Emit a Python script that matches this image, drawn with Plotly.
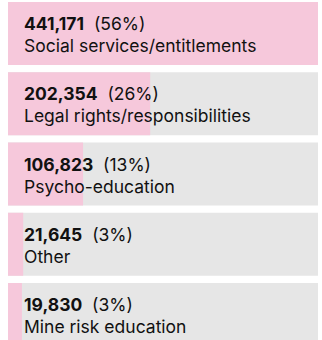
import plotly.graph_objects as go

# Counts of people reached, by type of activity
categories = [
    "Social services/entitlements",
    "Legal rights/responsibilities",
    "Psycho-education",
    "Other",
    "Mine risk education",
]
values = [441171, 202354, 106823, 21645, 19830]

PINK = "#F6C8DB"
GREY = "#E6E6E6"
TEXT = "#111111"
FONT = "Inter"
FSIZE = 17.5

total = sum(values)
vmax = max(values)
pcts = [round(v / total * 100) for v in values]
ypos = list(range(len(categories)))

fig = go.Figure()

# Full-width track behind each bar
fig.add_trace(go.Bar(
    y=ypos, x=[vmax] * len(values), orientation="h",
    marker=dict(color=GREY, line=dict(width=0)),
    width=0.897, hoverinfo="skip", showlegend=False,
))
# Value bar, scaled to the largest category
fig.add_trace(go.Bar(
    y=ypos, x=values, orientation="h",
    marker=dict(color=PINK, line=dict(width=0)),
    width=0.897, showlegend=False,
    hovertemplate="%{x:,}<extra></extra>",
))

annotations = []
for i, (cat, v, p) in enumerate(zip(categories, values, pcts)):
    annotations.append(dict(
        x=0, y=i, xref="x", yref="y", xanchor="left", yanchor="middle",
        xshift=14, yshift=10,
        text=f"<b>{v:,}</b>\u00a0\u00a0({p}%)",
        showarrow=False, font=dict(family=FONT, size=FSIZE, color=TEXT),
    ))
    annotations.append(dict(
        x=0, y=i, xref="x", yref="y", xanchor="left", yanchor="middle",
        xshift=14, yshift=-12,
        text=cat,
        showarrow=False, font=dict(family=FONT, size=FSIZE, color=TEXT),
    ))

W, H = 322, 340
fig.update_layout(
    width=W, height=H,
    margin=dict(l=0, r=0, t=0, b=0),
    paper_bgcolor="white", plot_bgcolor="white",
    barmode="overlay",
    annotations=annotations,
    xaxis=dict(range=[-8 / 310 * vmax, 314 / 310 * vmax], visible=False, fixedrange=True),
    yaxis=dict(range=[4.363, -0.477], visible=False, fixedrange=True),
)

fig.write_html("out.html", config={"displayModeBar": False})
